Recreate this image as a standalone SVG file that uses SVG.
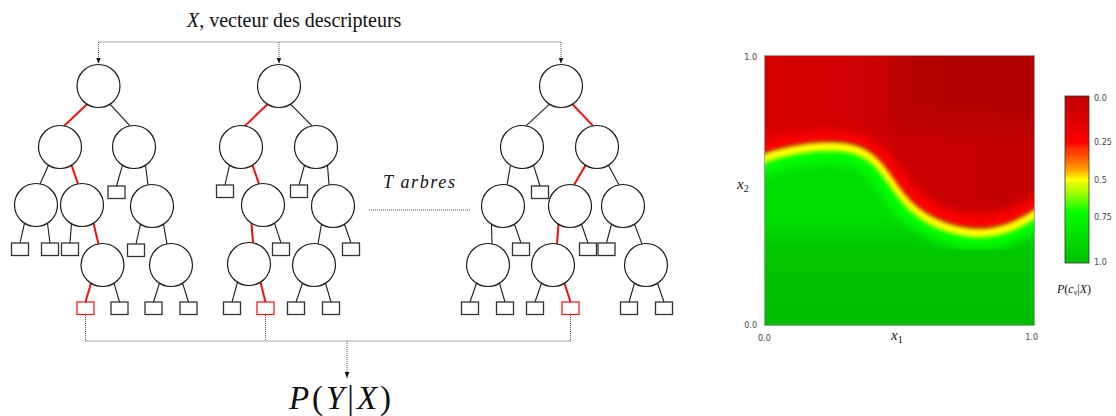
<svg xmlns="http://www.w3.org/2000/svg" width="1116" height="416" viewBox="0 0 1116 416">
<style>
.c{fill:#fff;stroke:#1a1a1a;stroke-width:1.2}
.b{fill:#fff;stroke:#333;stroke-width:1.3}
.br{fill:#fff;stroke:#e8131b;stroke-width:1.2}
.e{stroke:#1a1a1a;stroke-width:1.1;fill:none}
.er{stroke:#ee1111;stroke-width:2;fill:none}
.d{stroke:#555;stroke-width:1;stroke-dasharray:1 1;fill:none}
.tick{font-family:"DejaVu Sans",sans-serif;font-size:8px;fill:#444}
.serif{font-family:"Liberation Serif",serif;fill:#111}
</style>
<defs>
<marker id="ah" viewBox="0 0 6 6" refX="6" refY="3" markerWidth="6" markerHeight="6" orient="auto" markerUnits="userSpaceOnUse"><path d="M0,0.6 L6,3 L0,5.4 Z" fill="#111"/></marker>
<clipPath id="plotClip"><rect x="764" y="55" width="271" height="271"/></clipPath>
<linearGradient id="greenBase" x1="0" y1="55" x2="0" y2="326" gradientUnits="userSpaceOnUse">
<stop offset="0" stop-color="#00e600"/>
<stop offset="0.6" stop-color="#00dc00"/>
<stop offset="0.72" stop-color="#00c600"/>
<stop offset="1" stop-color="#00bb00"/>
</linearGradient>
<linearGradient id="darkRed" x1="764" y1="0" x2="1035" y2="0" gradientUnits="userSpaceOnUse">
<stop offset="0" stop-color="#d80000"/>
<stop offset="0.45" stop-color="#cc0000"/>
<stop offset="1" stop-color="#c20000"/>
</linearGradient>
<linearGradient id="cbar" x1="0" y1="96" x2="0" y2="263" gradientUnits="userSpaceOnUse">
<stop offset="0" stop-color="#c00000"/>
<stop offset="0.15" stop-color="#dd0000"/>
<stop offset="0.28" stop-color="#ff0000"/>
<stop offset="0.31" stop-color="#ff2a00"/>
<stop offset="0.36" stop-color="#ff5000"/>
<stop offset="0.44" stop-color="#ffa000"/>
<stop offset="0.5" stop-color="#ffff00"/>
<stop offset="0.58" stop-color="#a0ff00"/>
<stop offset="0.7" stop-color="#00ff00"/>
<stop offset="0.85" stop-color="#00dd00"/>
<stop offset="1" stop-color="#00c000"/>
</linearGradient>
<filter id="bl2" x="-20%" y="-20%" width="140%" height="140%"><feGaussianBlur stdDeviation="2.2"/></filter>
<filter id="bl5" x="-20%" y="-20%" width="140%" height="140%"><feGaussianBlur stdDeviation="5"/></filter>
<filter id="bl10" x="-30%" y="-40%" width="160%" height="180%"><feGaussianBlur stdDeviation="10"/></filter>
</defs>

<!-- titles -->
<text class="serif" x="187" y="27" font-size="20"><tspan font-style="italic">X</tspan>, vecteur des descripteurs</text>
<text class="serif" x="383" y="188" font-size="18" font-style="italic" textLength="72" lengthAdjust="spacing">T arbres</text>
<text class="serif" x="289" y="409" font-size="33" textLength="102" lengthAdjust="spacing"><tspan font-style="italic">P</tspan>(<tspan font-style="italic">Y</tspan>|<tspan font-style="italic">X</tspan>)</text>

<g id="connectors">
<path class="d" d="M98.5,42 H561"/>
<path class="d" d="M98.5,42 V63.5" marker-end="url(#ah)"/>
<path class="d" d="M279,42 V63.5" marker-end="url(#ah)"/>
<path class="d" d="M561,42 V63.5" marker-end="url(#ah)"/>
<path class="d" d="M369,210 H470"/>
<path class="d" d="M85.5,315 V341 H570.5 V315 M265.5,315 V341"/>
<path class="d" d="M347,341 V378" marker-end="url(#ah)"/>
<!-- tree 1 edges -->
<path class="er" d="M87,104.2 L64,125.9"/>
<path class="e" d="M110,104.2 L130,125.9"/>
<path class="e" d="M48.5,165.2 L40,183.9"/>
<path class="er" d="M71.5,165.2 L78,183.9"/>
<path class="e" d="M122.5,165.2 L116.5,186"/>
<path class="e" d="M145.5,165.2 L148,184.9"/>
<path class="e" d="M24.5,223.2 L20,243"/>
<path class="e" d="M47.5,223.2 L50,243"/>
<path class="e" d="M71.5,223.2 L70,243"/>
<path class="er" d="M93.5,223.2 L98.5,243.9"/>
<path class="e" d="M140.5,224.2 L136,244"/>
<path class="e" d="M163.5,224.2 L167,243.9"/>
<path class="er" d="M91,283.2 L85.5,302"/>
<path class="e" d="M114,283.2 L119.5,302"/>
<path class="e" d="M159.5,283.2 L153.5,302"/>
<path class="e" d="M182.5,283.2 L188.5,302"/>
<!-- tree 2 edges -->
<path class="er" d="M267.5,104.2 L245,125.9"/>
<path class="e" d="M290.5,104.2 L312,125.9"/>
<path class="e" d="M229.5,165.2 L225,185"/>
<path class="er" d="M252.5,165.2 L259,183.9"/>
<path class="e" d="M304.5,165.2 L299,185"/>
<path class="e" d="M327.5,165.2 L329,184.9"/>
<path class="er" d="M251.5,223.2 L253,242.9"/>
<path class="e" d="M274.5,223.2 L281,243"/>
<path class="e" d="M321.5,224.2 L318,243.9"/>
<path class="e" d="M344.5,224.2 L351,243"/>
<path class="e" d="M237.5,282.2 L232,302"/>
<path class="er" d="M260.5,282.2 L265.5,302"/>
<path class="e" d="M302.5,283.2 L296,302"/>
<path class="e" d="M325.5,283.2 L331,302"/>
<!-- tree 3 edges -->
<path class="e" d="M549.5,104.2 L526,125.9"/>
<path class="er" d="M572.5,104.2 L593,125.9"/>
<path class="e" d="M510.5,165.2 L507,184.9"/>
<path class="e" d="M533.5,165.2 L540,186"/>
<path class="er" d="M585.5,165.2 L574,184.9"/>
<path class="e" d="M608.5,165.2 L619,184.9"/>
<path class="e" d="M491.5,224.2 L492,243.9"/>
<path class="e" d="M514.5,224.2 L521,243"/>
<path class="er" d="M558.5,224.2 L557,243.9"/>
<path class="e" d="M581.5,224.2 L588,243"/>
<path class="e" d="M611.5,224.2 L606.5,243"/>
<path class="e" d="M634.5,224.2 L642,243.9"/>
<path class="e" d="M476.5,283.2 L470,302"/>
<path class="e" d="M499.5,283.2 L505,302"/>
<path class="e" d="M541.5,283.2 L535,302"/>
<path class="er" d="M564.5,283.2 L570.5,302"/>
<path class="e" d="M634.5,283.2 L629,302"/>
<path class="e" d="M657.5,283.2 L664,302"/>
</g>

<!-- tree 1 nodes -->
<g id="t1-a"><circle class="c" cx="98.5" cy="86" r="21.5"/></g>
<g id="t1-b"><circle class="c" cx="60" cy="147" r="21.5"/></g>
<g id="t1-c"><circle class="c" cx="134" cy="147" r="21.5"/></g>
<g id="t1-d"><circle class="c" cx="36" cy="205" r="21.5"/></g>
<g id="t1-e"><circle class="c" cx="82" cy="205" r="21.5"/></g>
<g id="t1-f"><circle class="c" cx="152" cy="206" r="21.5"/></g>
<g id="t1-g"><circle class="c" cx="102.5" cy="265" r="21.5"/></g>
<g id="t1-h"><circle class="c" cx="171" cy="265" r="21.5"/></g>
<g id="t1-l1"><rect class="b" x="108" y="186" width="17" height="12.5"/></g>
<g id="t1-l2"><rect class="b" x="11.5" y="243" width="17" height="12.5"/></g>
<g id="t1-l3"><rect class="b" x="41.5" y="243" width="17" height="12.5"/></g>
<g id="t1-l4"><rect class="b" x="61.5" y="243" width="17" height="12.5"/></g>
<g id="t1-l5"><rect class="b" x="127.5" y="244" width="17" height="12.5"/></g>
<g id="t1-l6"><rect class="br" x="77" y="302" width="17" height="12.5"/></g>
<g id="t1-l7"><rect class="b" x="111" y="302" width="17" height="12.5"/></g>
<g id="t1-l8"><rect class="b" x="145" y="302" width="17" height="12.5"/></g>
<g id="t1-l9"><rect class="b" x="180" y="302" width="17" height="12.5"/></g>

<!-- tree 2 nodes -->
<g id="t2-a"><circle class="c" cx="279" cy="86" r="21.5"/></g>
<g id="t2-b"><circle class="c" cx="241" cy="147" r="21.5"/></g>
<g id="t2-c"><circle class="c" cx="316" cy="147" r="21.5"/></g>
<g id="t2-d"><circle class="c" cx="263" cy="205" r="21.5"/></g>
<g id="t2-e"><circle class="c" cx="333" cy="206" r="21.5"/></g>
<g id="t2-f"><circle class="c" cx="249" cy="264" r="21.5"/></g>
<g id="t2-g"><circle class="c" cx="314" cy="265" r="21.5"/></g>
<g id="t2-l1"><rect class="b" x="216.5" y="185" width="17" height="12.5"/></g>
<g id="t2-l2"><rect class="b" x="290.5" y="185" width="17" height="12.5"/></g>
<g id="t2-l3"><rect class="b" x="272.5" y="243" width="17" height="12.5"/></g>
<g id="t2-l4"><rect class="b" x="342.5" y="243" width="17" height="12.5"/></g>
<g id="t2-l5"><rect class="b" x="223.5" y="302" width="17" height="12.5"/></g>
<g id="t2-l6"><rect class="br" x="257" y="302" width="17" height="12.5"/></g>
<g id="t2-l7"><rect class="b" x="287.5" y="302" width="17" height="12.5"/></g>
<g id="t2-l8"><rect class="b" x="322.5" y="302" width="17" height="12.5"/></g>

<!-- tree 3 nodes -->
<g id="t3-a"><circle class="c" cx="561" cy="86" r="21.5"/></g>
<g id="t3-b"><circle class="c" cx="522" cy="147" r="21.5"/></g>
<g id="t3-c"><circle class="c" cx="597" cy="147" r="21.5"/></g>
<g id="t3-d"><circle class="c" cx="503" cy="206" r="21.5"/></g>
<g id="t3-e"><circle class="c" cx="570" cy="206" r="21.5"/></g>
<g id="t3-f"><circle class="c" cx="623" cy="206" r="21.5"/></g>
<g id="t3-g"><circle class="c" cx="488" cy="265" r="21.5"/></g>
<g id="t3-h"><circle class="c" cx="553" cy="265" r="21.5"/></g>
<g id="t3-i"><circle class="c" cx="646" cy="265" r="21.5"/></g>
<g id="t3-l1"><rect class="b" x="531.5" y="186" width="17" height="12.5"/></g>
<g id="t3-l2"><rect class="b" x="512.5" y="243" width="17" height="12.5"/></g>
<g id="t3-l3"><rect class="b" x="579.5" y="243" width="17" height="12.5"/></g>
<g id="t3-l4"><rect class="b" x="598" y="243" width="17" height="12.5"/></g>
<g id="t3-l5"><rect class="b" x="461.5" y="302" width="17" height="12.5"/></g>
<g id="t3-l6"><rect class="b" x="496.5" y="302" width="17" height="12.5"/></g>
<g id="t3-l7"><rect class="b" x="526.5" y="302" width="17" height="12.5"/></g>
<g id="t3-l8"><rect class="br" x="562" y="302" width="17" height="12.5"/></g>
<g id="t3-l9"><rect class="b" x="620.5" y="302" width="17" height="12.5"/></g>
<g id="t3-l10"><rect class="b" x="655.5" y="302" width="17" height="12.5"/></g>

<!-- heat map -->
<g id="heatmap">
<g clip-path="url(#plotClip)">
<rect x="750" y="40" width="300" height="300" fill="url(#greenBase)"/>
<path d="M750,163 C770,154 800,146 830,146 C852,146 866,151 878,163 C890,175 898,192 910,204 C922,216 940,228 970,232 C995,235 1020,226 1050,202" fill="none" stroke="#00ff00" stroke-width="34" filter="url(#bl5)"/>
<path d="M750,163 C770,154 800,146 830,146 C852,146 866,151 878,163 C890,175 898,192 910,204 C922,216 940,228 970,232 C995,235 1020,226 1050,202" fill="none" stroke="#ffff00" stroke-width="10" filter="url(#bl2)"/>
<path transform="translate(0,-4)" d="M750,163 C770,154 800,146 830,146 C852,146 866,151 878,163 C890,175 898,192 910,204 C922,216 940,228 970,232 C995,235 1020,226 1050,202 L1050,30 L750,30 Z" fill="#ff0000" filter="url(#bl2)"/>
<path d="M750,146 C770,138 800,131 830,131 C855,131 872,137 886,151 C900,166 908,182 920,192 C932,203 950,212 972,214 C996,216 1020,208 1050,186 L1050,30 L750,30 Z" fill="url(#darkRed)" filter="url(#bl5)"/>
<rect x="890" y="20" width="170" height="110" fill="#b00000" opacity="0.75" filter="url(#bl10)"/>
</g>
<rect x="764.5" y="55.5" width="270" height="270" fill="none" stroke="#a0a0a0" stroke-width="1"/>
<text class="tick" x="757" y="60" text-anchor="end">1.0</text>
<text class="tick" x="757" y="328" text-anchor="end">0.0</text>
<text class="tick" x="758" y="341">0.0</text>
<text class="tick" x="1038" y="340" text-anchor="end">1.0</text>
<text class="serif" x="891" y="340" font-size="15" font-style="italic">x<tspan font-size="10" font-style="normal" dy="3">1</tspan></text>
<text class="serif" x="737" y="189" font-size="15" font-style="italic">x<tspan font-size="10" font-style="normal" dy="3">2</tspan></text>
</g>

<!-- colour bar -->
<g id="colorbar">
<rect x="1065" y="96" width="24" height="167" fill="url(#cbar)" stroke="#333" stroke-width="0.8"/>
<text class="tick" x="1094" y="101">0.0</text>
<text class="tick" x="1094" y="145">0.25</text>
<text class="tick" x="1094" y="183">0.5</text>
<text class="tick" x="1094" y="220">0.75</text>
<text class="tick" x="1094" y="265">1.0</text>
<text class="serif" x="1057" y="293" font-size="12"><tspan font-style="italic">P</tspan>(<tspan font-style="italic">c</tspan><tspan font-style="italic" font-size="8" dy="2">v</tspan><tspan dy="-2">|</tspan><tspan font-style="italic">X</tspan>)</text>
</g>
</svg>
